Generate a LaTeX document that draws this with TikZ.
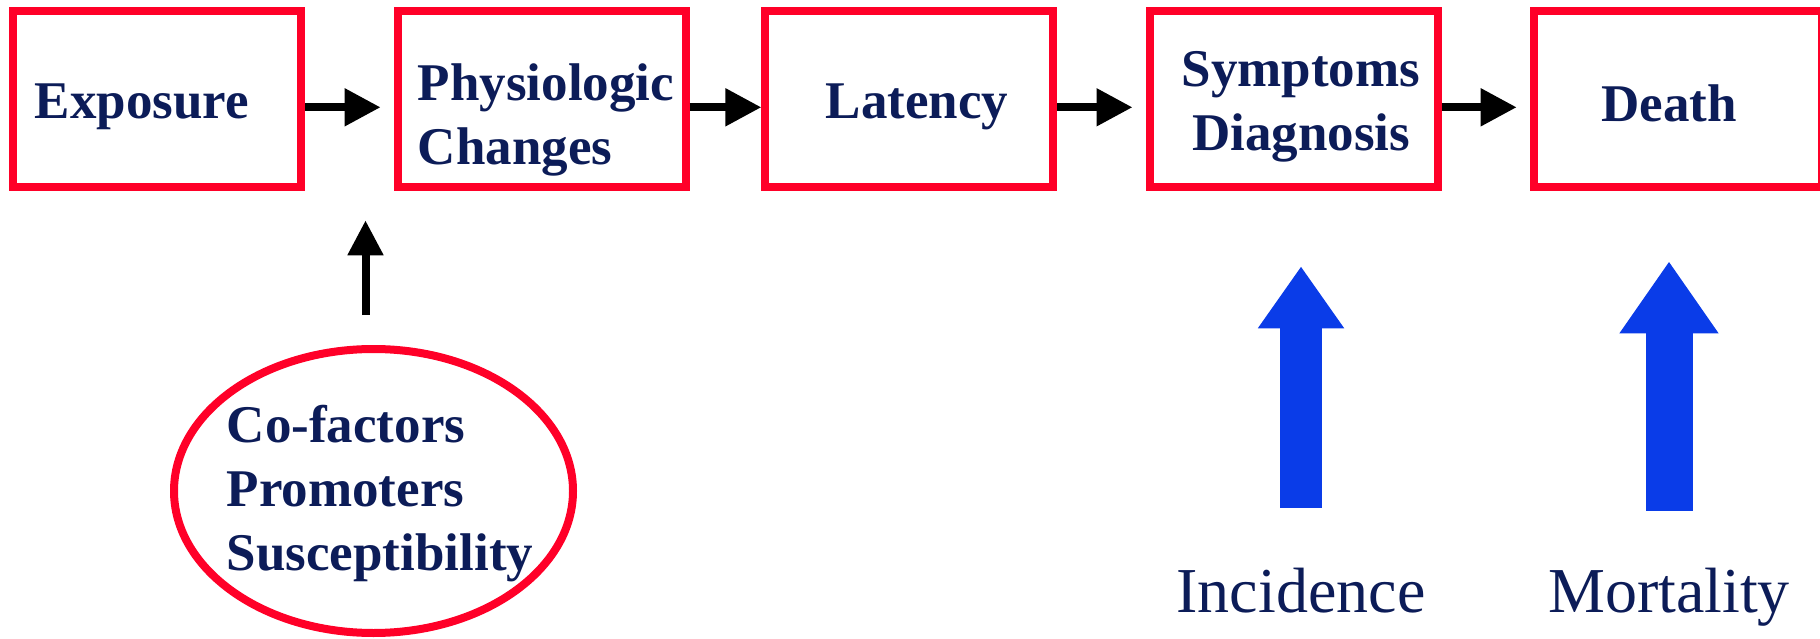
\documentclass[tikz,border=0pt]{standalone}
\usepackage{fontspec}
\setmainfont{Liberation Serif}
\usetikzlibrary{arrows.meta,shapes.geometric}
\definecolor{boxred}{RGB}{255,0,40}
\definecolor{navy}{RGB}{12,28,88}
\definecolor{rateblue}{RGB}{10,60,232}
\tikzset{
  stagebox/.style = {draw=boxred, line width=8pt, minimum width=288pt, minimum height=176pt, inner sep=0pt},
  stagetext/.style = {text=navy, font=\fontsize{53}{64}\selectfont\bfseries, inner sep=0pt, outer sep=0pt, anchor=north},
  factorring/.style = {ellipse, draw=boxred, line width=8pt, minimum width=399pt, minimum height=284pt, inner sep=0pt},
  ratetext/.style = {text=navy, font=\fontsize{64}{76}\selectfont, inner sep=0pt, outer sep=0pt, anchor=base},
  flowarrow/.style = {draw=black, line width=8pt, -{Triangle[length=36pt, width=36pt]}},
  ratearrow/.style = {draw=rateblue, line width=42pt, -{Triangle[length=62pt, width=82pt]}}
}

\begin{document}
\begin{tikzpicture}[x=1pt, y=-1pt]
  \useasboundingbox (0,0) rectangle (1820,639);

  % stages of the disease
  \node [stagebox] (expo) at (157,99.3) {};
  \node [stagebox] (phys) at (541.6,99.3) {};
  \node [stagebox] (lat) at (909.4,99.3) {};
  \node [stagebox] (symp) at (1293.5,99.3) {};
  \node [stagebox] (death) at (1677.7,99.3) {};

  \node [stagetext] (expotext) at (142,84) {Exposure};
  \node [stagetext, align=left] (phystext) at (546,64) {Physiologic\\Changes};
  \node [stagetext] (lattext) at (917,84) {Latency};
  \node [stagetext, align=center] (symptext) at (1301,51) {Symptoms\\Diagnosis};
  \node [stagetext] (deathtext) at (1669,85) {Death};

  \draw [flowarrow, shorten >=13pt] ([yshift=-8pt]expo.east) -- ([yshift=-8pt]phys.west);
  \draw [flowarrow] ([yshift=-8pt]phys.east) -- ([yshift=-8pt]lat.west);
  \draw [flowarrow, shorten >=13pt] ([yshift=-8pt]lat.east) -- ([yshift=-8pt]symp.west);
  \draw [flowarrow, shorten >=13pt] ([yshift=-8pt]symp.east) -- ([yshift=-8pt]death.west);

  % co-factors
  \node [factorring] (cofac) at (373.5,491) {};
  \node [stagetext, align=left] (cofactext) at (380,405) {Co-factors\\Promoters\\Susceptibility};
  \coordinate (pin) at ([xshift=-8pt]cofac.north);
  \draw [flowarrow, line width=8pt, -{Triangle[length=35pt, width=34pt]}, shorten <=30pt, shorten >=29pt] (pin) -- (pin |- phys.south);

  % measures
  \node [ratetext] (inctext) at (1301,612) {Incidence};
  \node [ratetext] (morttext) at (1669,612) {Mortality};
  \draw [ratearrow, shorten <=60pt, shorten >=75pt] (inctext.north) -- (inctext.north |- symp.south);
  \draw [ratearrow, line width=47pt, -{Triangle[length=72pt, width=94pt]}, shorten <=57pt, shorten >=70pt]
    (morttext.north) -- (morttext.north |- death.south);
\end{tikzpicture}
\end{document}
